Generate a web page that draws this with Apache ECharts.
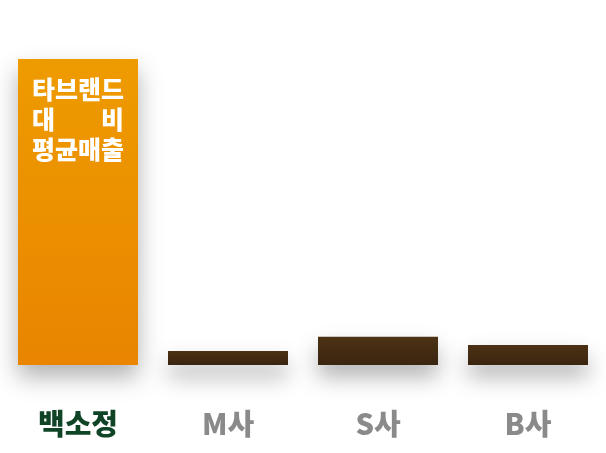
<!DOCTYPE html>
<html><head><meta charset="utf-8">
<script src="https://cdn.jsdelivr.net/npm/echarts@6/dist/echarts.min.js"></script>
<style>html,body{margin:0;padding:0;background:#fff}#c{width:606px;height:453px}</style>
</head><body><div id="c"></div>
<script>
const categories = ['백소정', 'M사', 'S사', 'B사'];
const values = [100, 4.6, 9.2, 6.5];
const insideLines = ['타브랜드', '대', '비', '평균매출'];

const chart = echarts.init(document.getElementById('c'));
const orange = new echarts.graphic.LinearGradient(0,0,0,1,[{offset:0,color:'#EE9B00'},{offset:1,color:'#E98500'}]);
const brown = new echarts.graphic.LinearGradient(0,0,0,1,[{offset:0,color:'#4C3214'},{offset:1,color:'#3A2510'}]);
const font = '"Noto Sans CJK KR", "Noto Sans", sans-serif';
chart.setOption({
  animation:false,
  grid:{left:3,right:3,top:59,bottom:88},
  xAxis:{type:'category',data:categories,axisLine:{show:false},axisTick:{show:false},
    axisLabel:{margin:44,formatter:(v,i)=> i===0?'{h|'+v+'}':'{g|'+v+'}',
      rich:{h:{color:'#0F4526',fontSize:29,fontWeight:900,fontFamily:font},
            g:{color:'#8A8A8A',fontSize:29,fontWeight:900,fontFamily:font}}}},
  yAxis:{type:'value',min:0,max:100,show:false,splitLine:{show:false}},
  series:[{type:'bar',barWidth:120,
    data:values.map((v,i)=>({value:v,itemStyle:{color:i===0?orange:brown},
      label:i===0?{show:true,position:'insideTop',distance:15,
        formatter:'{t|'+insideLines[0]+'}\n{t|'+insideLines[1]+'}{gap|}{t|'+insideLines[2]+'}\n{t|'+insideLines[3]+'}',
        rich:{t:{color:'#fff',fontSize:25,fontWeight:900,fontFamily:font,lineHeight:30},
              gap:{width:46,lineHeight:30}}}:{show:false}})),
    itemStyle:{shadowBlur:22,shadowOffsetY:12,shadowColor:'rgba(0,0,0,0.3)'}
  }]
});
</script></body></html>
